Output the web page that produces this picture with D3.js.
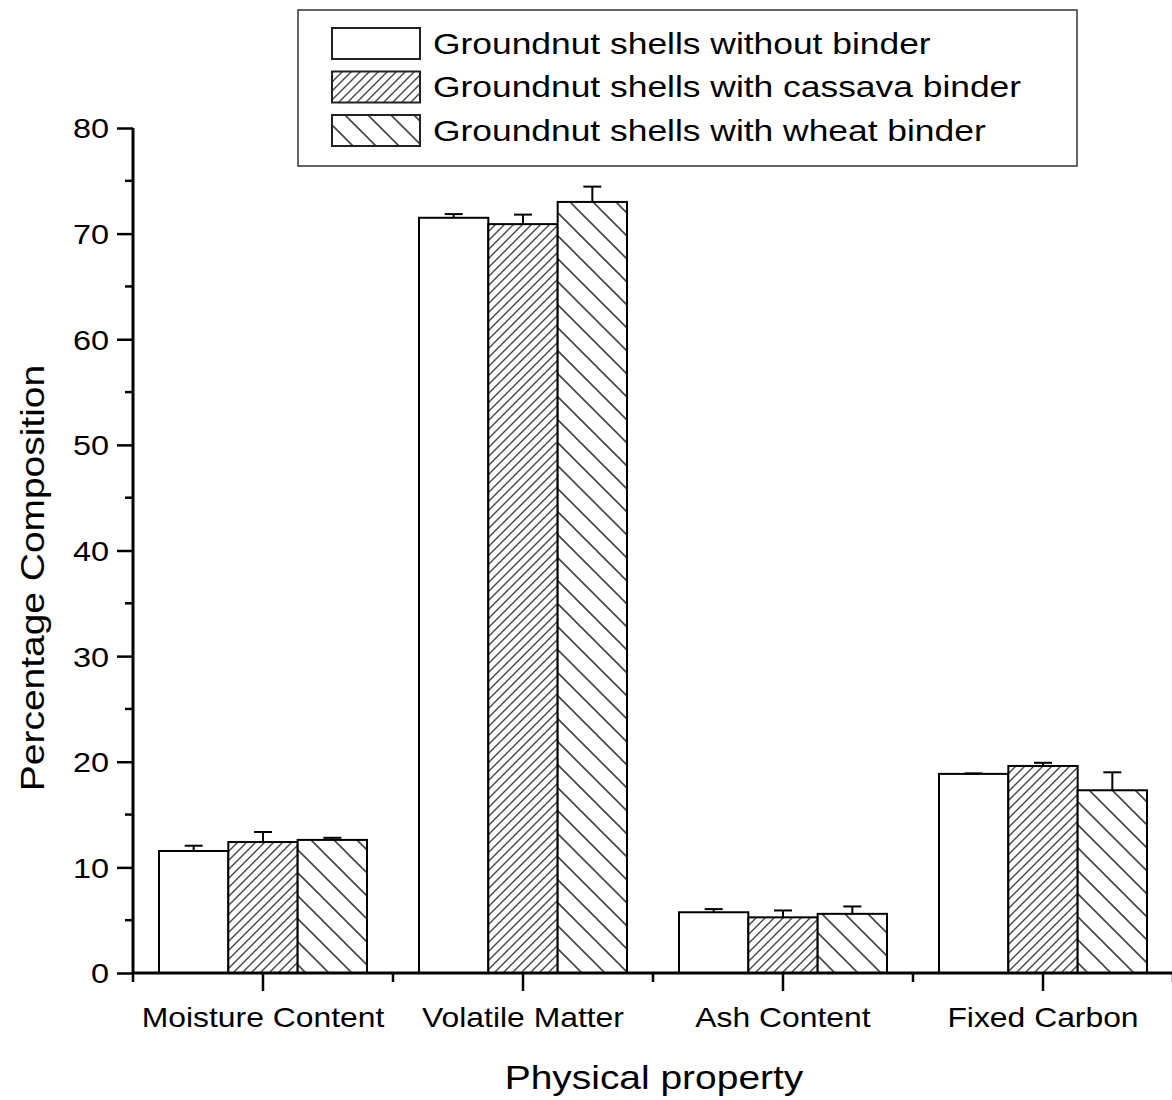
<!DOCTYPE html>
<html><head><meta charset="utf-8">
<script src="https://cdn.jsdelivr.net/npm/d3@7"></script>
<style>body{margin:0;background:#fff}svg{display:block}text{font-family:"Liberation Sans",Arial,sans-serif;fill:#000}</style>
</head><body><svg id="c" width="1172" height="1100"></svg>
<script>
const categories = ["Moisture Content","Volatile Matter","Ash Content","Fixed Carbon"];
const seriesNames = ["Groundnut shells without binder","Groundnut shells with cassava binder","Groundnut shells with wheat binder"];
const withoutBinder = [11.55, 71.5, 5.75, 18.85];
const withoutErr = [0.5, 0.35, 0.3, 0.05];
const cassavaBinder = [12.4, 70.9, 5.27, 19.6];
const cassavaErr = [0.95, 0.9, 0.65, 0.3];
const wheatBinder = [12.6, 73.0, 5.6, 17.3];
const wheatErr = [0.2, 1.45, 0.7, 1.7];
const yTicks = [0,10,20,30,40,50,60,70,80];

const SX = 1.18; // horizontal stretch of the reference's text
const series = [
  {name: seriesNames[0], values: withoutBinder, err: withoutErr, fill: "#fff"},
  {name: seriesNames[1], values: cassavaBinder, err: cassavaErr, fill: "url(#hatchF)"},
  {name: seriesNames[2], values: wheatBinder, err: wheatErr, fill: "url(#hatchB)"}
];

const svg = d3.select("#c");
const defs = svg.append("defs");
const pf = defs.append("pattern").attr("id","hatchF").attr("patternUnits","userSpaceOnUse")
  .attr("width",9).attr("height",9);
pf.append("rect").attr("width",9).attr("height",9).attr("fill","#fff");
pf.append("path").attr("d","M-2,2 L2,-2 M0,9 L9,0 M7,11 L11,7").attr("stroke","#444").attr("stroke-width",1.4);
const pb = defs.append("pattern").attr("id","hatchB").attr("patternUnits","userSpaceOnUse")
  .attr("width",23).attr("height",23);
pb.append("rect").attr("width",23).attr("height",23).attr("fill","#fff");
pb.append("path").attr("d","M-3,20 L3,26 M0,0 L23,23 M20,-3 L26,3").attr("stroke","#444").attr("stroke-width",1.6);

const x0 = 133, x1 = 1173, yTop = 128, yBot = 973;
const x = d3.scaleBand().domain(categories).range([x0, x1]).paddingInner(0.2).paddingOuter(0.1);
const xs = d3.scaleBand().domain(d3.range(series.length)).range([0, x.bandwidth()]);
const y = d3.scaleLinear().domain([0, 80]).range([yBot, yTop]);

series.forEach((s, si) => {
  const g = svg.append("g");
  g.selectAll("rect").data(categories).join("rect")
    .attr("x", (c) => x(c) + xs(si))
    .attr("y", (c, i) => y(s.values[i]))
    .attr("width", xs.bandwidth())
    .attr("height", (c, i) => y(0) - y(s.values[i]))
    .attr("fill", s.fill).attr("stroke", "#000").attr("stroke-width", 2);
  const e = svg.append("g").attr("stroke","#000").attr("stroke-width",2);
  categories.forEach((c, i) => {
    if (s.err[i] <= 0) return;
    const cx = x(c) + xs(si) + xs.bandwidth() / 2;
    e.append("line").attr("x1", cx).attr("x2", cx).attr("y1", y(s.values[i])).attr("y2", y(s.values[i] + s.err[i]));
    e.append("line").attr("x1", cx - 9).attr("x2", cx + 9).attr("y1", y(s.values[i] + s.err[i])).attr("y2", y(s.values[i] + s.err[i]));
  });
});

function stretch(sel) {
  sel.each(function() {
    const t = d3.select(this);
    const tx = +t.attr("x") || 0;
    const prev = t.attr("transform") || "";
    t.attr("transform", `${prev} translate(${tx},0) scale(${SX},1) translate(${-tx},0)`);
  });
}

// Y axis
const yAxis = d3.axisLeft(y).tickValues(yTicks).tickSize(16).tickPadding(8).tickFormat(d3.format("d"));
const yg = svg.append("g").attr("transform", `translate(${x0},0)`).call(yAxis);
yg.select(".domain").attr("stroke-width", 3).attr("d", `M0,${yTop}V${yBot}`);
yg.selectAll(".tick line").attr("stroke-width", 2.5);
yg.selectAll(".tick text").attr("font-size", 27.5).attr("font-family", '"Liberation Sans",Arial,sans-serif').attr("dy","0.36em").call(stretch);
const yMinor = d3.range(5, 80, 10);
svg.append("g").selectAll("line").data(yMinor).join("line")
  .attr("x1", x0 - 8).attr("x2", x0).attr("y1", d => y(d)).attr("y2", d => y(d))
  .attr("stroke", "#000").attr("stroke-width", 2.5);

// X axis
const xAxis = d3.axisBottom(x).tickSize(18).tickPadding(17);
const xg = svg.append("g").attr("transform", `translate(0,${yBot})`).call(xAxis);
xg.select(".domain").attr("stroke-width", 3).attr("d", `M${x0},0H${x1}`);
xg.selectAll(".tick line").attr("stroke-width", 2.5);
xg.selectAll(".tick text").attr("font-size", 27).attr("font-family", '"Liberation Sans",Arial,sans-serif').call(stretch);
const bounds = d3.range(categories.length + 1).map(i => x0 + i * x.step());
svg.append("g").selectAll("line").data(bounds).join("line")
  .attr("x1", d => d).attr("x2", d => d).attr("y1", yBot).attr("y2", yBot + 9)
  .attr("stroke", "#000").attr("stroke-width", 2.5);

// Axis titles
svg.append("text").attr("x", 654).attr("y", 1089).attr("text-anchor", "middle").attr("font-size", 33).text("Physical property").call(stretch);
svg.append("g").attr("transform", "translate(44,578) rotate(-90)")
  .append("text").attr("x", 0).attr("y", 0).attr("text-anchor", "middle").attr("font-size", 33).text("Percentage Composition").call(stretch);

// Legend
const lg = svg.append("g");
lg.append("rect").attr("x", 298).attr("y", 10).attr("width", 779).attr("height", 156)
  .attr("fill", "#fff").attr("stroke", "#333").attr("stroke-width", 1.5);
series.forEach((s, i) => {
  const yy = 28 + i * 43.5;
  lg.append("rect").attr("x", 332).attr("y", yy).attr("width", 88).attr("height", 31)
    .attr("fill", s.fill).attr("stroke", "#222").attr("stroke-width", 2);
  lg.append("text").attr("x", 433).attr("y", yy + 15.5).attr("dy", "0.35em").attr("font-size", 30).text(s.name).call(stretch);
});
</script></body></html>
